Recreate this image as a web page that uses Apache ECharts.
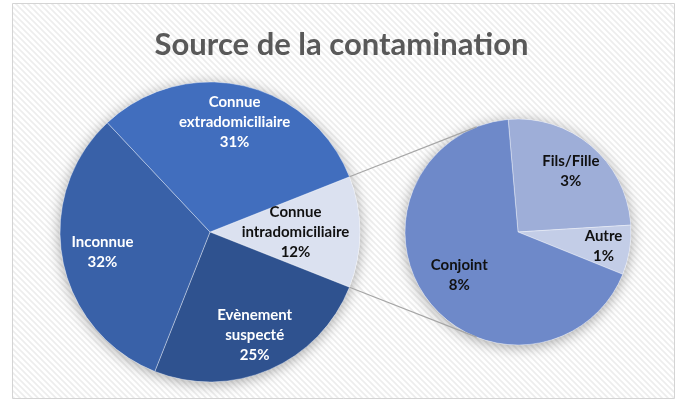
<!DOCTYPE html>
<html>
<head>
<meta charset="utf-8">
<script src="https://cdn.jsdelivr.net/npm/echarts@6/dist/echarts.min.js"></script>
<style>html,body{margin:0;padding:0;background:#fff}#c{width:683px;height:403px}</style>
</head>
<body>
<div id="c"></div>
<script>
// ---- data ----
const chartTitle = 'Source de la contamination';
const mainCategories = ['Connue intradomiciliaire', 'Evènement suspecté', 'Inconnue', 'Connue extradomiciliaire'];
const mainLabels = ['Connue\nintradomiciliaire', 'Evènement\nsuspecté', 'Inconnue', 'Connue\nextradomiciliaire'];
const mainValues = [12, 25, 32, 31];
const subCategories = ['Fils/Fille', 'Autre', 'Conjoint'];
const subValues = [3.05, 0.85, 8.1];

// ---- style / layout ----
const mainColors = ['#dbe1f0', '#2f528f', '#3961a8', '#416ebe'];
const mainLabelColors = ['#111', '#fff', '#fff', '#fff'];
const mainLabelFrac = [0.55, 0.73, 0.71, 0.73];
const subColors = ['#9eaed8', '#c3cde7', '#6e89c9'];
const subLabelFrac = [0.69, 0.74, 0.62];
const MC = [210, 232], MR = 150;
const SC = [518, 232], SR = 113;
const SUB_START = 95;
const FONT = 'Lato';

const total = mainValues.reduce((a, b) => a + b, 0);
const mainStart = mainValues[0] / total * 360 / 2;

const chart = echarts.init(document.getElementById('c'), null, { renderer: 'canvas' });

// stripe pattern
const tile = document.createElement('canvas');
tile.width = 6; tile.height = 6;
const tc = tile.getContext('2d');
tc.fillStyle = '#ffffff'; tc.fillRect(0, 0, 6, 6);
tc.strokeStyle = '#ededed'; tc.lineWidth = 1.6;
tc.beginPath();
tc.moveTo(-1, -1); tc.lineTo(7, 7);
tc.moveTo(-4, 2); tc.lineTo(4, 10);
tc.moveTo(2, -4); tc.lineTo(10, 4);
tc.stroke();

function labelSeries(center, R, values, names, labels, idx, frac, color) {
  return {
    type: 'pie', silent: true, clockwise: true,
    center: center, radius: [Math.max(0, (2 * frac - 1) * R), R],
    startAngle: 0, animation: false, z: 5,
    itemStyle: { color: 'rgba(0,0,0,0)', borderWidth: 0 },
    emphasis: { disabled: true },
    labelLine: { show: false },
    data: values.map((v, i) => ({
      name: names[i], value: v,
      label: {
        show: i === idx, position: 'inside',
        formatter: labels[i] + '\n' + Math.round(v) + '%',
        color: color, fontFamily: FONT, fontWeight: 'bold', fontSize: 15, lineHeight: 20
      }
    }))
  };
}

const series = [];
// shadows
series.push({ type: 'pie', silent: true, animation: false, center: MC, radius: [0, MR], z: 1,
  label: { show: false }, itemStyle: { color: '#fff', shadowBlur: 14, shadowColor: 'rgba(0,0,0,0.35)', shadowOffsetY: 2 },
  data: [{ value: 1 }] });
series.push({ type: 'pie', silent: true, animation: false, center: SC, radius: [0, SR], z: 1,
  label: { show: false }, itemStyle: { color: '#fff', shadowBlur: 14, shadowColor: 'rgba(0,0,0,0.35)', shadowOffsetY: 2 },
  data: [{ value: 1 }] });
// main pie
series.push({ type: 'pie', animation: false, center: MC, radius: [0, MR], startAngle: mainStart, clockwise: true, z: 2,
  label: { show: false }, labelLine: { show: false },
  itemStyle: { borderColor: 'rgba(255,255,255,0.45)', borderWidth: 0.8 },
  data: mainValues.map((v, i) => ({ name: mainCategories[i], value: v, itemStyle: { color: mainColors[i] } })) });
// sub pie
series.push({ type: 'pie', animation: false, center: SC, radius: [0, SR], startAngle: SUB_START, clockwise: true, z: 2,
  label: { show: false }, labelLine: { show: false },
  itemStyle: { borderColor: 'rgba(255,255,255,0.45)', borderWidth: 0.8 },
  data: subValues.map((v, i) => ({ name: subCategories[i], value: v, itemStyle: { color: subColors[i] } })) });
// labels
mainValues.forEach((v, i) => {
  const s = labelSeries(MC, MR, mainValues, mainCategories, mainLabels, i, mainLabelFrac[i], mainLabelColors[i]);
  s.startAngle = mainStart; series.push(s);
});
subValues.forEach((v, i) => {
  const s = labelSeries(SC, SR, subValues, subCategories, subCategories, i, subLabelFrac[i], '#111');
  s.startAngle = SUB_START; series.push(s);
});

// connector lines: from edges of first main slice, tangent to the sub pie
const a1 = mainStart * Math.PI / 180, a2 = -mainStart * Math.PI / 180;
const p1 = [MC[0] + MR * Math.cos(a1), MC[1] - MR * Math.sin(a1)];
const p2 = [MC[0] + MR * Math.cos(a2), MC[1] - MR * Math.sin(a2)];
function tangent(P, sign) {
  const dx = P[0] - SC[0], dy = P[1] - SC[1];
  const d = Math.hypot(dx, dy);
  const th = Math.atan2(dy, dx), al = Math.acos(SR / d);
  const t = th + sign * al;
  return [SC[0] + SR * Math.cos(t), SC[1] + SR * Math.sin(t)];
}
const t1 = tangent(p1, 1), t2 = tangent(p2, -1);

chart.setOption({
  animation: false,
  title: { text: chartTitle, left: 'center', top: 24,
    textStyle: { fontFamily: FONT, fontWeight: 'bold', fontSize: 31, color: '#595959' } },
  graphic: [
    { type: 'rect', z: -10, silent: true, shape: { x: 12.5, y: 3.5, width: 662, height: 395 },
      style: { fill: { image: tile, repeat: 'repeat' }, stroke: '#d4d4d4', lineWidth: 1 } },
    { type: 'line', z: 100, silent: true, shape: { x1: p1[0], y1: p1[1], x2: t1[0], y2: t1[1] },
      style: { stroke: '#a6a6a6', lineWidth: 1.2 } },
    { type: 'line', z: 100, silent: true, shape: { x1: p2[0], y1: p2[1], x2: t2[0], y2: t2[1] },
      style: { stroke: '#a6a6a6', lineWidth: 1.2 } }
  ],
  series: series
});
</script>
</body>
</html>
